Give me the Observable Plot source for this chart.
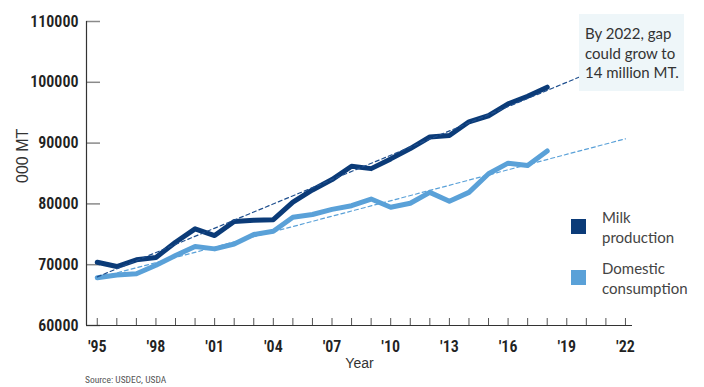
<!DOCTYPE html>
<html>
<head>
<meta charset="utf-8">
<script src="https://cdn.jsdelivr.net/npm/d3@7"></script>
<script src="https://cdn.jsdelivr.net/npm/@observablehq/plot@0.6"></script>
<style>
  html, body { margin: 0; padding: 0; background: #fff; }
  #chart { position: relative; width: 704px; height: 387px; overflow: hidden; }
  .note {
    position: absolute; left: 579px; top: 14px; width: 105px; height: 77px;
    background: #eef6f9; box-sizing: border-box; padding: 10px 0 0 6px;
    font: 15px/19.5px Lato, "Open Sans", sans-serif; color: #333;
  }
  .legend { position: absolute; left: 571px; top: 0; font: 15px/20px Lato, "Open Sans", sans-serif; color: #444; }
  .legend .swatch { position: absolute; left: 0; width: 15px; height: 15px; }
  .legend .label { position: absolute; left: 31px; white-space: nowrap; }
  .source {
    position: absolute; left: 85px; top: 374px; line-height: 11px;
    font-size: 9.5px; font-family: "Roboto Condensed", "Liberation Sans Narrow", sans-serif; color: #555;
  }
</style>
</head>
<body>
<div id="chart"></div>
<script>
// US milk production vs. domestic consumption, thousand metric tons
const years = d3.range(1995, 2019);
const milkProduction = [
  70400, 69700, 70800, 71200, 73700, 75900, 74800, 77100, 77300, 77400, 80300, 82300,
  84000, 86200, 85800, 87400, 89100, 91000, 91250, 93500, 94500, 96450, 97700, 99200
];
const domesticConsumption = [
  67850, 68300, 68500, 69900, 71500, 73000, 72600, 73400, 74970, 75500, 77800, 78250,
  79100, 79700, 80800, 79460, 80100, 81900, 80450, 81900, 84950, 86700, 86300, 88700
];

// Linear trends projected out to 2022
const trendYears = [1995, 2022];
const milkTrend = [68000, 104000];
const consumptionTrend = [67800, 90700];

const seriesNames = ["Milk production", "Domestic consumption"];
const seriesColors = ["#0b3b78", "#5aa1d8"];
const trendColors = ["#1f4f8e", "#5aa1d8"];

const yTicks = [60000, 70000, 80000, 90000, 100000, 110000];
const xTickYears = d3.range(1995, 2023);
const xLabelYears = d3.range(1995, 2023, 3);
const xDomain = [1994.45, 2022.36];

const milkRows = years.map((year, i) => ({year, value: milkProduction[i]}));
const consRows = years.map((year, i) => ({year, value: domesticConsumption[i]}));
const milkTrendRows = trendYears.map((year, i) => ({year, value: milkTrend[i]}));
const consTrendRows = trendYears.map((year, i) => ({year, value: consumptionTrend[i]}));

const tickFont = {fontFamily: "'Roboto Condensed', 'Liberation Sans Narrow', sans-serif", fontSize: 16, fontWeight: 600};
const titleFont = "'Liberation Sans', Arial, sans-serif";

const plot = Plot.plot({
  width: 704,
  height: 387,
  marginLeft: 86,
  marginRight: 72,
  marginTop: 21,
  marginBottom: 62,
  style: {color: "#222", background: "transparent"},
  x: {domain: xDomain},
  y: {domain: [yTicks[0], yTicks[yTicks.length - 1]]},
  marks: [
    // inward ticks
    Plot.axisY({ticks: yTicks, tickSize: -14, text: null, stroke: "#8a8a8a", strokeWidth: 1.5, label: null}),
    Plot.axisX({ticks: xTickYears, tickSize: -7, text: null, stroke: "#555", label: null}),
    // tick labels
    Plot.axisY({ticks: yTicks, tickSize: 0, tickPadding: 8, tickFormat: d => String(d), label: null, ...tickFont}),
    Plot.axisX({ticks: xLabelYears, tickSize: 0, tickPadding: 15, tickFormat: d => "'" + String(d).slice(2), label: null, ...tickFont}),
    // axis lines
    Plot.ruleX([xDomain[0]], {stroke: "#333", strokeWidth: 1.2}),
    Plot.ruleY([yTicks[0]], {stroke: "#333", strokeWidth: 1.2}),
    // axis titles
    Plot.text(["Year"], {frameAnchor: "bottom", dy: 42, fontSize: 14, fontFamily: titleFont, fill: "#333"}),
    Plot.text(["000 MT"], {frameAnchor: "left", dx: -64, dy: 9.5, rotate: -90, fontSize: 16, fontFamily: titleFont, fill: "#333"}),
    // series
    Plot.line(consRows, {x: "year", y: "value", stroke: seriesColors[1], strokeWidth: 5, strokeLinejoin: "round"}),
    Plot.line(milkRows, {x: "year", y: "value", stroke: seriesColors[0], strokeWidth: 5, strokeLinejoin: "round"}),
    // trend projections
    Plot.line(consTrendRows, {x: "year", y: "value", stroke: trendColors[1], strokeWidth: 1.2, strokeDasharray: "4,3"}),
    Plot.line(milkTrendRows, {x: "year", y: "value", stroke: trendColors[0], strokeWidth: 1.2, strokeDasharray: "4,3"})
  ]
});

const chart = document.getElementById("chart");
chart.appendChild(plot);

// annotation
const note = document.createElement("div");
note.className = "note";
note.innerHTML = "By 2022, gap<br>could grow to<br>14 million MT.";
chart.appendChild(note);

// legend
const legend = document.createElement("div");
legend.className = "legend";
const legendTops = [219, 270];
const legendLines = [["Milk", "production"], ["Domestic", "consumption"]];
seriesNames.forEach((name, i) => {
  const sw = document.createElement("div");
  sw.className = "swatch";
  sw.style.top = legendTops[i] + "px";
  sw.style.background = seriesColors[i];
  sw.title = name;
  legend.appendChild(sw);
  const lab = document.createElement("div");
  lab.className = "label";
  lab.style.top = (legendTops[i] - 12) + "px";
  lab.innerHTML = legendLines[i].join("<br>");
  legend.appendChild(lab);
});
chart.appendChild(legend);

const source = document.createElement("div");
source.className = "source";
source.textContent = "Source: USDEC, USDA";
chart.appendChild(source);
</script>
</body>
</html>
